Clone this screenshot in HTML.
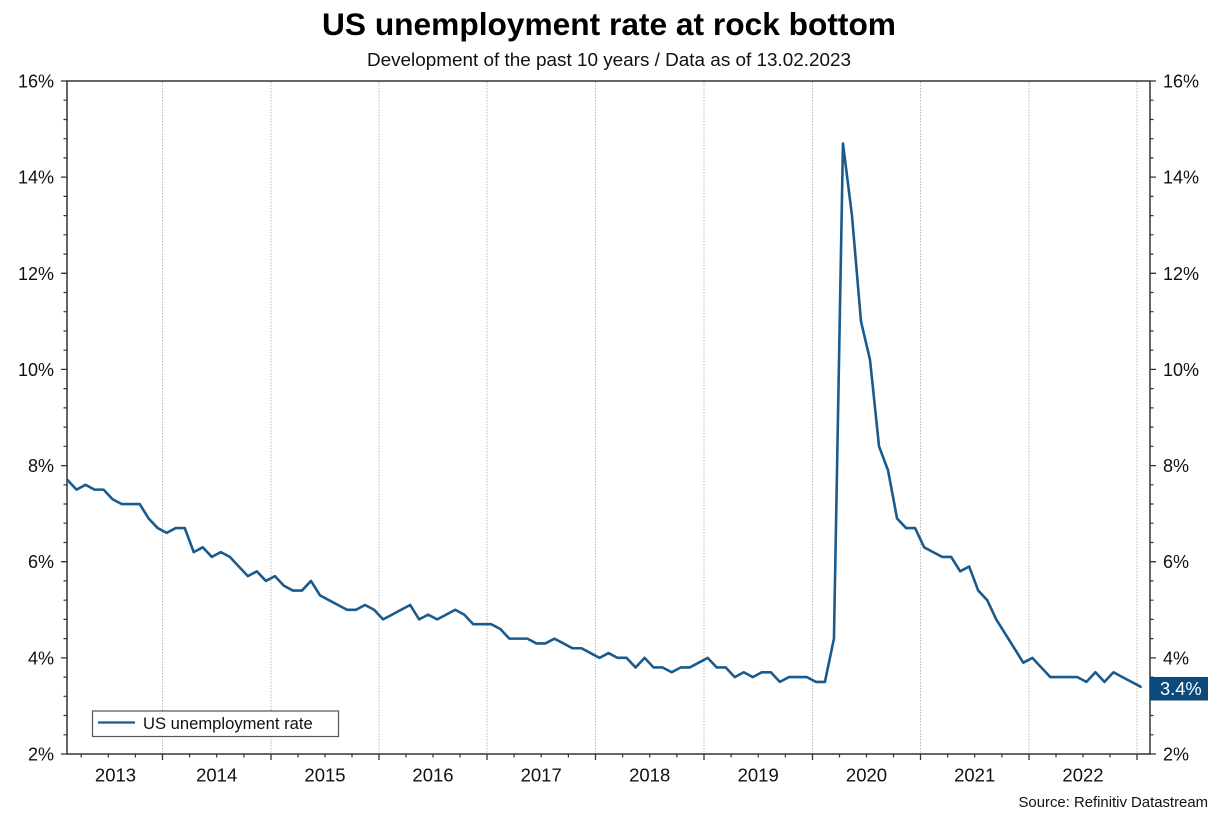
<!DOCTYPE html>
<html>
<head>
<meta charset="utf-8">
<style>
  html, body { margin: 0; padding: 0; background: #ffffff; }
  body { width: 1216px; height: 813px; overflow: hidden; }
  svg { display: block; }
  text { font-family: "Liberation Sans", Arial, sans-serif; fill: #111111; }
</style>
</head>
<body>
<svg width="1216" height="813" viewBox="0 0 1216 813" xmlns="http://www.w3.org/2000/svg">
  <rect x="0" y="0" width="1216" height="813" fill="#ffffff"/>

  <text x="609" y="35" text-anchor="middle" font-size="31.7" font-weight="bold" style="fill:#000">US unemployment rate at rock bottom</text>
  <text x="609" y="66" text-anchor="middle" font-size="18.9">Development of the past 10 years / Data as of 13.02.2023</text>

  <path stroke="#b8b8b8" stroke-width="1" stroke-dasharray="1.5,1.5" fill="none"
    d="M162.5 82V753M271 82V753M379 82V753M487 82V753M595.5 82V753M704 82V753M812.5 82V753M920.5 82V753M1029 82V753M1137 82V753"/>

  <path stroke="#333333" stroke-width="1.5" fill="none"
    d="M67 81H1150M67 754H1150M67 80.3V754.7M1150 80.3V754.7"/>

  <path stroke="#333333" stroke-width="1.3" fill="none"
    d="M61 81H67M61 177.1H67M61 273.3H67M61 369.4H67M61 465.6H67M61 561.7H67M61 657.9H67M61 754H67
       M1150 81H1156M1150 177.1H1156M1150 273.3H1156M1150 369.4H1156M1150 465.6H1156M1150 561.7H1156M1150 657.9H1156M1150 754H1156
       M162.5 754V760M271 754V760M379 754V760M487 754V760M595.5 754V760M704 754V760M812.5 754V760M920.5 754V760M1029 754V760M1137 754V760"/>

  <path stroke="#333333" stroke-width="1.2" fill="none"
    d="M63.5 100.2H67M63.5 119.5H67M63.5 138.7H67M63.5 157.9H67M63.5 196.4H67M63.5 215.6H67M63.5 234.8H67M63.5 254.1H67
       M63.5 292.5H67M63.5 311.7H67M63.5 331H67M63.5 350.2H67M63.5 388.6H67M63.5 407.9H67M63.5 427.1H67M63.5 446.3H67
       M63.5 484.8H67M63.5 504H67M63.5 523.2H67M63.5 542.5H67M63.5 580.9H67M63.5 600.2H67M63.5 619.4H67M63.5 638.6H67
       M63.5 677.1H67M63.5 696.3H67M63.5 715.5H67M63.5 734.8H67
       M1150 100.2H1153.5M1150 119.5H1153.5M1150 138.7H1153.5M1150 157.9H1153.5M1150 196.4H1153.5M1150 215.6H1153.5M1150 234.8H1153.5M1150 254.1H1153.5
       M1150 292.5H1153.5M1150 311.7H1153.5M1150 331H1153.5M1150 350.2H1153.5M1150 388.6H1153.5M1150 407.9H1153.5M1150 427.1H1153.5M1150 446.3H1153.5
       M1150 484.8H1153.5M1150 504H1153.5M1150 523.2H1153.5M1150 542.5H1153.5M1150 580.9H1153.5M1150 600.2H1153.5M1150 619.4H1153.5M1150 638.6H1153.5
       M1150 677.1H1153.5M1150 696.3H1153.5M1150 715.5H1153.5M1150 734.8H1153.5
       M81.2 754V757.5M108.3 754V757.5M135.4 754V757.5M189.6 754V757.5M216.7 754V757.5M243.9 754V757.5
       M298 754V757.5M325 754V757.5M352 754V757.5M406 754V757.5M433 754V757.5M460 754V757.5
       M514.1 754V757.5M541.2 754V757.5M568.4 754V757.5M622.6 754V757.5M649.7 754V757.5M676.9 754V757.5
       M731.1 754V757.5M758.2 754V757.5M785.4 754V757.5M839.5 754V757.5M866.5 754V757.5M893.5 754V757.5
       M947.6 754V757.5M974.7 754V757.5M1001.9 754V757.5M1056 754V757.5M1083 754V757.5M1110 754V757.5"/>

  <g font-size="18" text-anchor="end">
    <text x="54" y="87.5">16%</text>
    <text x="54" y="183.6">14%</text>
    <text x="54" y="279.8">12%</text>
    <text x="54" y="375.9">10%</text>
    <text x="54" y="472.1">8%</text>
    <text x="54" y="568.2">6%</text>
    <text x="54" y="664.4">4%</text>
    <text x="54" y="760.5">2%</text>
  </g>
  <g font-size="18" text-anchor="start">
    <text x="1163" y="87.5">16%</text>
    <text x="1163" y="183.6">14%</text>
    <text x="1163" y="279.8">12%</text>
    <text x="1163" y="375.9">10%</text>
    <text x="1163" y="472.1">8%</text>
    <text x="1163" y="568.2">6%</text>
    <text x="1163" y="664.4">4%</text>
    <text x="1163" y="760.5">2%</text>
  </g>

  <g font-size="18.5" text-anchor="middle">
    <text x="115.5" y="781.5">2013</text>
    <text x="216.7" y="781.5">2014</text>
    <text x="325" y="781.5">2015</text>
    <text x="433" y="781.5">2016</text>
    <text x="541.2" y="781.5">2017</text>
    <text x="649.7" y="781.5">2018</text>
    <text x="758.2" y="781.5">2019</text>
    <text x="866.5" y="781.5">2020</text>
    <text x="974.7" y="781.5">2021</text>
    <text x="1083" y="781.5">2022</text>
  </g>

  <g transform="translate(67.5,850.14) scale(9.017,-48.07)">
    <polyline fill="none" stroke="#1a5a8c" stroke-width="2.6" stroke-linejoin="round" stroke-linecap="round" vector-effect="non-scaling-stroke"
      points="0,7.7 1,7.5 2,7.6 3,7.5 4,7.5 5,7.3 6,7.2 7,7.2 8,7.2 9,6.9 10,6.7 11,6.6 12,6.7 13,6.7 14,6.2 15,6.3 16,6.1 17,6.2 18,6.1 19,5.9 20,5.7 21,5.8 22,5.6 23,5.7 24,5.5 25,5.4 26,5.4 27,5.6 28,5.3 29,5.2 30,5.1 31,5.0 32,5.0 33,5.1 34,5.0 35,4.8 36,4.9 37,5.0 38,5.1 39,4.8 40,4.9 41,4.8 42,4.9 43,5.0 44,4.9 45,4.7 46,4.7 47,4.7 48,4.6 49,4.4 50,4.4 51,4.4 52,4.3 53,4.3 54,4.4 55,4.3 56,4.2 57,4.2 58,4.1 59,4.0 60,4.1 61,4.0 62,4.0 63,3.8 64,4.0 65,3.8 66,3.8 67,3.7 68,3.8 69,3.8 70,3.9 71,4.0 72,3.8 73,3.8 74,3.6 75,3.7 76,3.6 77,3.7 78,3.7 79,3.5 80,3.6 81,3.6 82,3.6 83,3.5 84,3.5 85,4.4 86,14.7 87,13.2 88,11.0 89,10.2 90,8.4 91,7.9 92,6.9 93,6.7 94,6.7 95,6.3 96,6.2 97,6.1 98,6.1 99,5.8 100,5.9 101,5.4 102,5.2 103,4.8 104,4.5 105,4.2 106,3.9 107,4.0 108,3.8 109,3.6 110,3.6 111,3.6 112,3.6 113,3.5 114,3.7 115,3.5 116,3.7 117,3.6 118,3.5 119,3.4"/>
  </g>

  <rect x="1150" y="677" width="58" height="23.5" fill="#0b4a7b"/>
  <text x="1160" y="695" font-size="18.3" style="fill:#ffffff">3.4%</text>

  <rect x="92.5" y="711" width="246" height="25.5" fill="#ffffff" stroke="#555555" stroke-width="1.2"/>
  <line x1="98" y1="722.5" x2="135" y2="722.5" stroke="#1a5a8c" stroke-width="2.2"/>
  <text x="143" y="729" font-size="16.6">US unemployment rate</text>

  <text x="1208" y="807" font-size="14.9" text-anchor="end">Source: Refinitiv Datastream</text>
</svg>
</body>
</html>
